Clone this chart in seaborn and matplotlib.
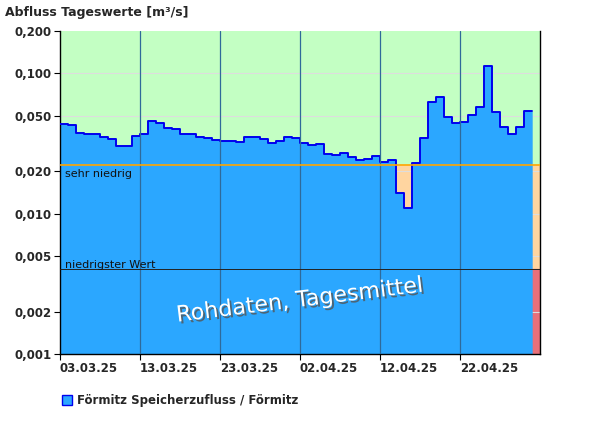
import matplotlib

matplotlib.use("Agg")
import matplotlib.pyplot as plt
import matplotlib.patheffects as pe
import numpy as np
import pandas as pd
import seaborn as sns
from matplotlib.patches import Patch

# daily means from 03.03.25 to 30.04.25 (m³/s)
flow = [
    0.0438, 0.0430, 0.0377, 0.0367, 0.0367, 0.0353, 0.0343, 0.0305, 0.0305, 0.0359,
    0.0367, 0.0459, 0.0440, 0.0409, 0.0400, 0.0367, 0.0367, 0.0353, 0.0345, 0.0336,
    0.0331, 0.0331, 0.0325, 0.0353, 0.0353, 0.0342, 0.0321, 0.0327, 0.0353, 0.0347,
    0.0320, 0.0311, 0.0315, 0.0267, 0.0260, 0.0271, 0.0254, 0.0243, 0.0246, 0.0258,
    0.0234, 0.0242, 0.0141, 0.0110, 0.0230, 0.0347, 0.0628, 0.0682, 0.0485, 0.0444,
    0.0450, 0.0507, 0.0578, 0.1135, 0.0533, 0.0418, 0.0370, 0.0418, 0.0541,
]
start_date = "2025-03-03"
n_days_axis = 60
sehr_niedrig = 0.0224
niedrigster_wert = 0.00405
y_ticks = [0.001, 0.002, 0.005, 0.01, 0.02, 0.05, 0.1, 0.2]
y_labels = ["0,001", "0,002", "0,005", "0,010", "0,020", "0,050", "0,100", "0,200"]
x_tick_days = [0, 10, 20, 30, 40, 50]
x_labels = [d.strftime("%d.%m.%y") for d in pd.date_range(start_date, periods=60, freq="D")[x_tick_days]]

df = pd.DataFrame({"day": np.arange(len(flow) + 1), "flow": flow + [flow[-1]]})

sns.set_theme(style="white")
plt.rcParams["font.family"] = "DejaVu Sans"
fig = plt.figure(figsize=(6, 4.26), dpi=100)
ax = fig.add_axes([0.1, 0.169, 0.8, 0.758])
ax.set_yscale("log")
ax.set_ylim(0.001, 0.2)
ax.set_xlim(0, n_days_axis)

ax.axhspan(sehr_niedrig, 0.2, color="#c3ffc3", zorder=0)
ax.axhspan(niedrigster_wert, sehr_niedrig, color="#ffd5a0", zorder=0)
ax.axhspan(0.001, niedrigster_wert, color="#e8707a", zorder=0)
for t in y_ticks[1:-1]:
    ax.axhline(t, color="#dddddd", lw=0.8, zorder=1)

ax.fill_between(df["day"], 0.001, df["flow"], step="post", color="#2ba7ff", lw=0, zorder=2)
sns.lineplot(data=df, x="day", y="flow", drawstyle="steps-post", color="#0000ee", lw=1.4, ax=ax, zorder=3)
ax.vlines([df["day"].iloc[-1]], 0.001, flow[-1], color="#2ba7ff", lw=0.5, zorder=2)

for d in x_tick_days[1:]:
    ax.axvline(d, color="#2f6a9a", lw=0.9, zorder=4)
ax.axhline(sehr_niedrig, color="#ffa500", lw=1.2, zorder=4)
ax.axhline(niedrigster_wert, color="#222222", lw=0.7, zorder=4)
ax.text(0.6, sehr_niedrig * 0.93, "sehr niedrig", fontsize=8, va="top", color="#111111", zorder=5)
ax.text(0.6, niedrigster_wert * 0.98, "niedrigster Wert", fontsize=8, va="bottom", color="#111111", zorder=5)

ax.text(30, 0.0024, "Rohdaten, Tagesmittel", fontsize=16, color="white", rotation=7,
        ha="center", va="center", zorder=6,
        path_effects=[pe.withSimplePatchShadow(offset=(1.5, -1.5), shadow_rgbFace="#555555", alpha=0.8)])

ax.set_yticks(y_ticks)
ax.set_yticklabels(y_labels, fontsize=8.5, fontweight="bold")
ax.yaxis.set_minor_locator(matplotlib.ticker.NullLocator())
ax.set_xticks(x_tick_days)
ax.set_xticklabels(x_labels, fontsize=8.5, fontweight="bold", ha="left")
ax.tick_params(axis="both", length=4, width=0.8, color="black", direction="out", bottom=True, left=True, pad=2)
ax.set_xlabel("")
ax.set_ylabel("")
for side in ["left", "bottom", "right"]:
    ax.spines[side].set_color("black")
    ax.spines[side].set_linewidth(1.0)
ax.spines["top"].set_visible(False)

fig.text(0.008, 0.985, "Abfluss Tageswerte [m³/s]", fontsize=9, fontweight="bold", va="top")
fig.legend(handles=[Patch(facecolor="#2ba7ff", edgecolor="#0000ee", label="Förmitz Speicherzufluss / Förmitz")],
           loc="lower left", bbox_to_anchor=(0.085, 0.02), frameon=False, handlelength=0.9, handleheight=0.9,
           handletextpad=0.4, prop={"size": 8.5, "weight": "bold"})

fig.savefig("out.png", dpi=100)
plt.close(fig)
